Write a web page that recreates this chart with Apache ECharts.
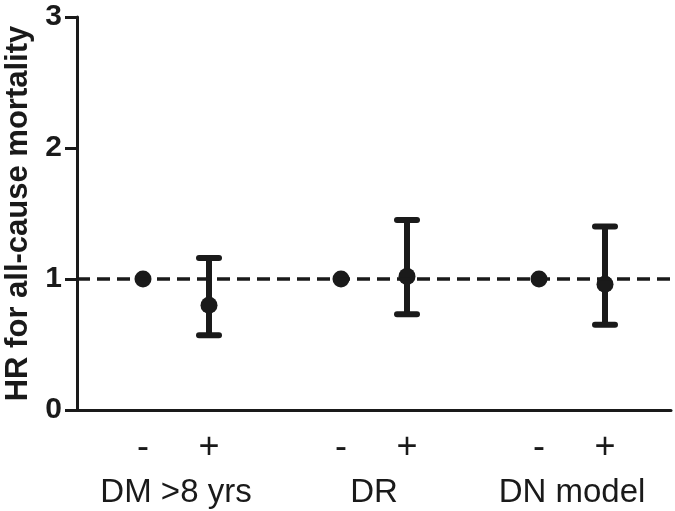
<!DOCTYPE html>
<html>
<head>
<meta charset="utf-8">
<script src="https://cdn.jsdelivr.net/npm/echarts@6/dist/echarts.min.js"></script>
<style>
  html, body { margin: 0; padding: 0; background: #fff; }
  #chart { width: 675px; height: 511px; }
</style>
</head>
<body>
<div id="chart"></div>
<script>
// groups and their centre positions on the x value axis
const groups = ['DM >8 yrs', 'DR', 'DN model']
const groupCentres = [1.5, 4.5, 7.5]
// each point: position, sign label, HR, lower / upper CI
const positions = [1, 2, 4, 5, 7, 8]
const signs = ['-', '+', '-', '+', '-', '+']
const hr = [1, 0.80, 1, 1.02, 1, 0.96]
const lower = [null, 0.57, null, 0.73, null, 0.65]
const upper = [null, 1.16, null, 1.45, null, 1.40]
const yTicks = [0, 1, 2, 3]

const ink = '#1a1a1a'
const chart = echarts.init(document.getElementById('chart'))

const errData = positions
  .map((p, i) => [p, lower[i], upper[i]])
  .filter((d) => d[1] != null)

chart.setOption({
  animation: false,
  backgroundColor: '#fff',
  grid: { left: 77, right: 4, top: 17, bottom: 101, containLabel: false, outerBoundsMode: 'none' },
  xAxis: [
    {
      type: 'value',
      min: 0,
      max: 9,
      interval: 1,
      axisLine: { show: true, onZero: false, lineStyle: { color: ink, width: 3 } },
      axisTick: { show: false },
      splitLine: { show: false },
      axisLabel: {
        margin: 20,
        color: ink,
        fontFamily: 'Liberation Sans',
        fontSize: 36,
        formatter: (v) => {
          const i = positions.indexOf(v)
          return i >= 0 ? signs[i] : ''
        }
      }
    },
    {
      type: 'value',
      position: 'bottom',
      min: 0,
      max: 9,
      interval: 1.5,
      axisLine: { show: false },
      axisTick: { show: false },
      splitLine: { show: false },
      axisLabel: {
        margin: 66,
        color: ink,
        fontFamily: 'Liberation Sans',
        fontSize: 33,
        formatter: (v) => {
          const i = groupCentres.indexOf(v)
          return i >= 0 ? groups[i] : ''
        }
      }
    }
  ],
  yAxis: {
    type: 'value',
    min: yTicks[0],
    max: yTicks[yTicks.length - 1],
    interval: 1,
    name: 'HR for all-cause mortality',
    nameLocation: 'middle',
    nameGap: 42,
    nameTextStyle: { color: ink, fontFamily: 'Liberation Sans', fontWeight: 'bold', fontSize: 31 },
    axisLine: { show: true, lineStyle: { color: ink, width: 3 } },
    axisTick: { show: true, length: 12, lineStyle: { color: ink, width: 3 } },
    splitLine: { show: false },
    axisLabel: { margin: 15, color: ink, fontFamily: 'Liberation Sans', fontWeight: 'bold', fontSize: 30 }
  },
  series: [
    {
      type: 'custom',
      name: 'CI',
      z: 3,
      data: errData,
      renderItem: (params, api) => {
        const x = api.value(0)
        const lo = api.coord([x, api.value(1)])
        const hi = api.coord([x, api.value(2)])
        const half = 10
        const style = { stroke: ink, lineWidth: 6 }
        return {
          type: 'group',
          children: [
            { type: 'line', shape: { x1: lo[0], y1: lo[1], x2: hi[0], y2: hi[1] }, style },
            { type: 'line', shape: { x1: hi[0] - half, y1: hi[1], x2: hi[0] + half, y2: hi[1] }, style: { stroke: ink, lineWidth: 6, lineCap: 'round' } },
            { type: 'line', shape: { x1: lo[0] - half, y1: lo[1], x2: lo[0] + half, y2: lo[1] }, style: { stroke: ink, lineWidth: 6, lineCap: 'round' } }
          ]
        }
      }
    },
    {
      type: 'scatter',
      name: 'HR',
      z: 4,
      symbol: 'circle',
      symbolSize: 17,
      itemStyle: { color: ink, opacity: 1 },
      data: positions.map((p, i) => [p, hr[i]]),
      markLine: {
        silent: true,
        symbol: 'none',
        label: { show: false },
        lineStyle: { color: ink, width: 3.5, type: [13, 7] },
        data: [{ yAxis: 1 }]
      }
    }
  ]
})
</script>
</body>
</html>
